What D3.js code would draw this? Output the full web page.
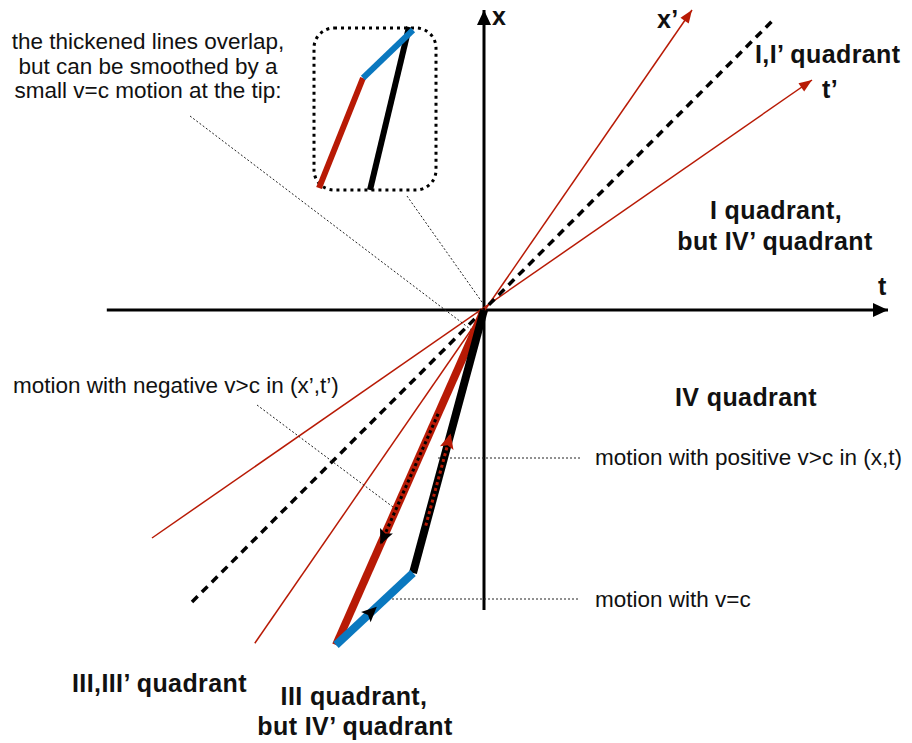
<!DOCTYPE html>
<html>
<head>
<meta charset="utf-8">
<script src="https://cdn.jsdelivr.net/npm/d3@7"></script>
<style>
  body { margin: 0; background: #fff; }
  text { font-family: "Liberation Sans", Arial, Helvetica, sans-serif; fill: #111; }
</style>
</head>
<body>
<svg width="912" height="743"></svg>
<script>
// diagram units: t runs right, x runs up, the axes cross at (0, 0)
const tAxis = [[-9.43, 0], [10.1, 0]];
const xAxis = [[0, -7.5], [0, 7.5]];
const xPrimeAxis = [[-5.73, -8.33], [5.2, 7.5]];
const tPrimeAxis = [[-8.3, -5.7], [8.2, 5.75]];
const lightLine = [[-7.3, -7.3], [7.28, 7.3]];

// the world line: red (v>c seen in x',t'), blue (v=c), black (v>c seen in x,t)
const redLeg = [[0, 0], [-3.7, -8.375]];
const blueLeg = [[-3.7, -8.375], [-1.775, -6.575]];
const blackLeg = [[-1.775, -6.575], [0, 0]];

// fractions along a leg where the dotted direction arrows run
const redArrowSpan = [0.31, 0.7];
const blackArrowSpan = [0.18, 0.53];
const blueArrowAt = 0.53;

// the zoomed tip inside the callout box
const tipRed = [[-4.125, 3.05], [-3.025, 5.8]];
const tipBlue = [[-3.025, 5.8], [-1.775, 7.0]];
const tipBlack = [[-2.85, 3.0], [-1.875, 7.075]];
const calloutBox = [[-4.25, 7.05], [-1.2, 3.0]];

const leaders = [
  [[-7.35, 4.85], [-0.22, -0.57]],
  [[-1.925, 2.85], [-0.03, 0.17]],
  [[-5.675, -2.375], [-2.175, -5.0]],
  [[-1.15, -3.7], [2.45, -3.7]],
  [[-2.4, -7.225], [2.4, -7.225]]
];

const plainLabels = [
  { text: 'the thickened lines overlap,', t: -8.4, x: 6.525, anchor: 'middle' },
  { text: 'but can be smoothed by a', t: -8.4, x: 5.9, anchor: 'middle' },
  { text: 'small v=c motion at the tip:', t: -8.4, x: 5.3, anchor: 'middle' },
  { text: 'motion with negative v>c in (x\u2019,t\u2019)', t: -11.775, x: -2.075, anchor: 'start' },
  { text: 'motion with positive v>c in (x,t)', t: 2.775, x: -3.875, anchor: 'start' },
  { text: 'motion with v=c', t: 2.775, x: -7.425, anchor: 'start' }
];

const boldLabels = [
  { text: 'x', t: 0.2, x: 7.125, anchor: 'start' },
  { text: 'x\u2019', t: 4.325, x: 7.05, anchor: 'start' },
  { text: 't\u2019', t: 8.45, x: 5.3, anchor: 'start' },
  { text: 't', t: 9.85, x: 0.375, anchor: 'start' },
  { text: 'I,I\u2019 quadrant', t: 6.775, x: 6.175, anchor: 'start' },
  { text: 'I quadrant,', t: 7.3, x: 2.275, anchor: 'middle' },
  { text: 'but IV\u2019 quadrant', t: 7.275, x: 1.5, anchor: 'middle' },
  { text: 'IV quadrant', t: 4.775, x: -2.4, anchor: 'start' },
  { text: 'III,III\u2019 quadrant', t: -10.3, x: -9.55, anchor: 'start' },
  { text: 'III quadrant,', t: -3.25, x: -9.875, anchor: 'middle' },
  { text: 'but IV\u2019 quadrant', t: -3.225, x: -10.625, anchor: 'middle' }
];

const red = '#b81a05';
const blue = '#0a78bf';

const svg = d3.select('svg');

const tScale = d3.scaleLinear().domain([-10, 10]).range([84, 884]);
const xScale = d3.scaleLinear().domain([-10, 10]).range([710, -90]);

const line = d3.line().x(d => tScale(d[0])).y(d => xScale(d[1]));

const along = (seg, f) => [
  seg[0][0] + (seg[1][0] - seg[0][0]) * f,
  seg[0][1] + (seg[1][1] - seg[0][1]) * f
];

const defs = svg.append('defs');
const marker = (id, color, len, half, notch) =>
  defs.append('marker')
    .attr('id', id)
    .attr('markerUnits', 'userSpaceOnUse')
    .attr('markerWidth', 40)
    .attr('markerHeight', 40)
    .attr('viewBox', '-20 -20 40 40')
    .attr('refX', 0)
    .attr('refY', 0)
    .attr('orient', 'auto')
    .append('path')
    .attr('d', `M0,0 L${-len},${-half} L${-len + notch},0 L${-len},${half} Z`)
    .attr('fill', color);

marker('axisHead', '#000', 15, 7, 0);
marker('redHead', red, 13, 5, 0);
marker('blackDir', '#000', 15, 7, 3);
marker('redDir', red, 15, 7, 3);

// main axes
[tAxis, xAxis].forEach(a => {
  svg.append('path').attr('d', line(a))
    .attr('stroke', '#000').attr('stroke-width', 3).attr('fill', 'none')
    .attr('marker-end', 'url(#axisHead)');
});

// primed axes
[xPrimeAxis, tPrimeAxis].forEach(a => {
  svg.append('path').attr('d', line(a))
    .attr('stroke', red).attr('stroke-width', 1.5).attr('fill', 'none')
    .attr('marker-end', 'url(#redHead)');
});

// light cone
svg.append('path').attr('d', line(lightLine))
  .attr('stroke', '#000').attr('stroke-width', 3.5).attr('fill', 'none')
  .attr('stroke-dasharray', '8,6');

// leader lines
leaders.forEach(l => {
  svg.append('path').attr('d', line(l))
    .attr('stroke', '#222').attr('stroke-width', 1).attr('fill', 'none')
    .attr('stroke-dasharray', '2,2');
});

// thick world line
svg.append('path').attr('d', line(redLeg))
  .attr('stroke', red).attr('stroke-width', 8).attr('fill', 'none');
svg.append('path').attr('d', line(blackLeg))
  .attr('stroke', '#000').attr('stroke-width', 8).attr('fill', 'none');
svg.append('path').attr('d', line(blueLeg))
  .attr('stroke', blue).attr('stroke-width', 8).attr('fill', 'none');

// direction arrows on top of the thick legs
svg.append('path')
  .attr('d', line([along(redLeg, redArrowSpan[0]), along(redLeg, redArrowSpan[1])]))
  .attr('stroke', '#000').attr('stroke-width', 3).attr('fill', 'none')
  .attr('stroke-dasharray', '3,3')
  .attr('marker-end', 'url(#blackDir)');
svg.append('path')
  .attr('d', line([along(blackLeg, blackArrowSpan[0]), along(blackLeg, blackArrowSpan[1])]))
  .attr('stroke', red).attr('stroke-width', 3).attr('fill', 'none')
  .attr('stroke-dasharray', '3,3')
  .attr('marker-end', 'url(#redDir)');
svg.append('path')
  .attr('d', line([along(blueLeg, blueArrowAt - 0.05), along(blueLeg, blueArrowAt)]))
  .attr('stroke', 'none').attr('fill', 'none')
  .attr('marker-end', 'url(#blackDir)');

// callout box with the smoothed tip
svg.append('rect')
  .attr('x', tScale(calloutBox[0][0]))
  .attr('y', xScale(calloutBox[0][1]))
  .attr('width', tScale(calloutBox[1][0]) - tScale(calloutBox[0][0]))
  .attr('height', xScale(calloutBox[1][1]) - xScale(calloutBox[0][1]))
  .attr('rx', 20)
  .attr('fill', 'none').attr('stroke', '#000').attr('stroke-width', 3)
  .attr('stroke-dasharray', '3,4');
svg.append('path').attr('d', line(tipBlack))
  .attr('stroke', '#000').attr('stroke-width', 6).attr('fill', 'none');
svg.append('path').attr('d', line(tipRed))
  .attr('stroke', red).attr('stroke-width', 6).attr('fill', 'none');
svg.append('path').attr('d', line(tipBlue))
  .attr('stroke', blue).attr('stroke-width', 6).attr('fill', 'none');

// labels
svg.selectAll('text.plain')
  .data(plainLabels)
  .join('text')
  .attr('class', 'plain')
  .attr('x', d => tScale(d.t))
  .attr('y', d => xScale(d.x))
  .attr('text-anchor', d => d.anchor)
  .attr('font-size', 22.5)
  .text(d => d.text);

svg.selectAll('text.bold')
  .data(boldLabels)
  .join('text')
  .attr('class', 'bold')
  .attr('x', d => tScale(d.t))
  .attr('y', d => xScale(d.x))
  .attr('text-anchor', d => d.anchor)
  .attr('font-size', 25)
  .attr('letter-spacing', 0.4)
  .attr('font-weight', 'bold')
  .text(d => d.text);
</script>
</body>
</html>
